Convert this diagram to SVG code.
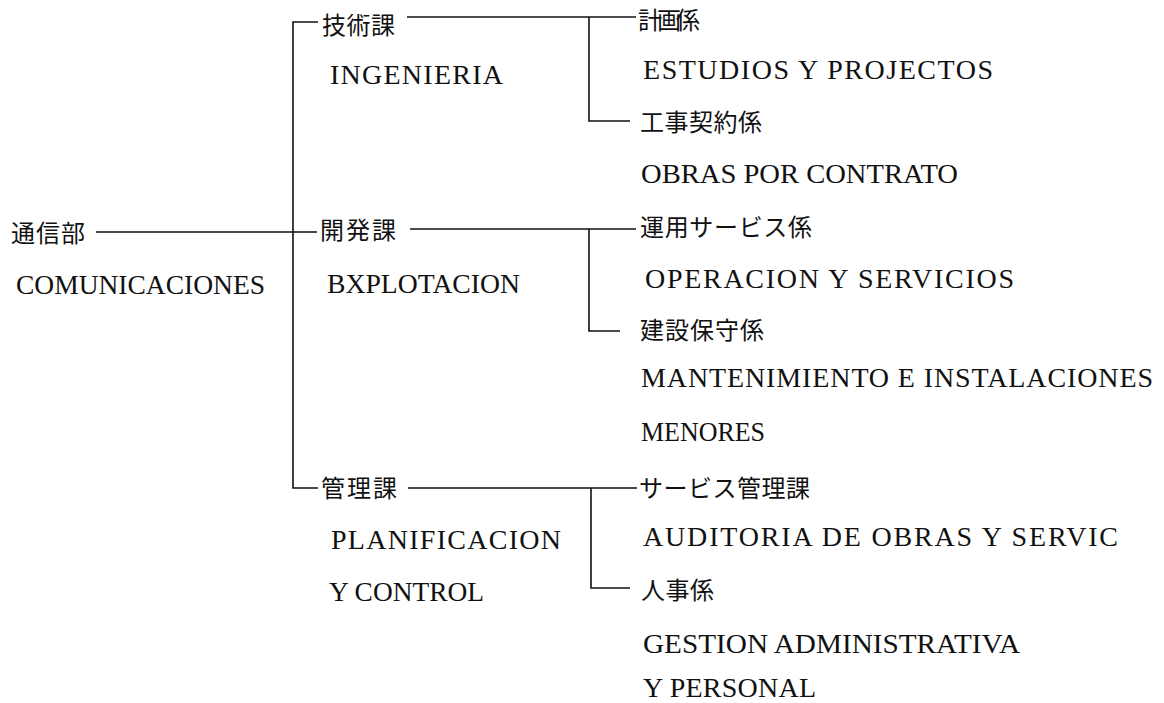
<svg xmlns="http://www.w3.org/2000/svg" width="1164" height="703" viewBox="0 0 1164 703">
<style>
.j{font-family:"Noto Sans CJK JP","Noto Sans CJK SC",sans-serif;font-size:24px;fill:#111;}
.l{font-family:"Liberation Serif","Times New Roman",serif;font-size:28px;fill:#111;}
.c{stroke:#111;stroke-width:1.6;fill:none;}
</style>
<rect width="1164" height="703" fill="#fff"/>
<g id="connectors">
<path class="c" d="M96,232 H317"/>
<path class="c" d="M318,22 H293 V488 H318"/>
<path class="c" d="M407,17 H636"/>
<path class="c" d="M589,17 V121 H630"/>
<path class="c" d="M410,229 H636"/>
<path class="c" d="M589,229 V331 H620"/>
<path class="c" d="M408,488 H637"/>
<path class="c" d="M591,488 V588 H630"/>
</g>
<g id="n-tsushin">
<text class="j" x="11" y="242" textLength="74">通信部</text>
<text class="l" x="16" y="294" textLength="249" lengthAdjust="spacingAndGlyphs">COMUNICACIONES</text>
</g>
<g id="n-gijutsu">
<text class="j" x="322" y="34" textLength="73">技術課</text>
<text class="l" x="330" y="84" textLength="173">INGENIERIA</text>
</g>
<g id="n-kaihatsu">
<text class="j" x="320" y="239" textLength="76">開発課</text>
<text class="l" x="327" y="293" textLength="193" lengthAdjust="spacingAndGlyphs">BXPLOTACION</text>
</g>
<g id="n-kanri">
<text class="j" x="321" y="497" textLength="76">管理課</text>
<text class="l" x="331" y="549" textLength="230">PLANIFICACION</text>
<text class="l" x="329" y="601" textLength="155" lengthAdjust="spacingAndGlyphs">Y CONTROL</text>
</g>
<g id="n-keikaku">
<text class="j" x="638" y="29" textLength="62">計画係</text>
<text class="l" x="643" y="79" textLength="350">ESTUDIOS Y PROJECTOS</text>
</g>
<g id="n-koji">
<text class="j" x="640" y="131" textLength="122">工事契約係</text>
<text class="l" x="641" y="183" textLength="317" lengthAdjust="spacingAndGlyphs">OBRAS POR CONTRATO</text>
</g>
<g id="n-unyo">
<text class="j" x="640" y="236" textLength="172">運用サービス係</text>
<text class="l" x="645" y="288" textLength="369">OPERACION Y SERVICIOS</text>
</g>
<g id="n-kensetsu">
<text class="j" x="640" y="339" textLength="124">建設保守係</text>
<text class="l" x="641" y="387" textLength="512">MANTENIMIENTO E INSTALACIONES</text>
<text class="l" x="641" y="441" textLength="124" lengthAdjust="spacingAndGlyphs">MENORES</text>
</g>
<g id="n-service">
<text class="j" x="639" y="497" textLength="171">サービス管理課</text>
<text class="l" x="643" y="546" textLength="475">AUDITORIA DE OBRAS Y SERVIC</text>
</g>
<g id="n-jinji">
<text class="j" x="641" y="599" textLength="73">人事係</text>
<text class="l" x="643" y="653" textLength="377" lengthAdjust="spacingAndGlyphs">GESTION ADMINISTRATIVA</text>
<text class="l" x="643" y="697" textLength="173">Y PERSONAL</text>
</g>
</svg>
